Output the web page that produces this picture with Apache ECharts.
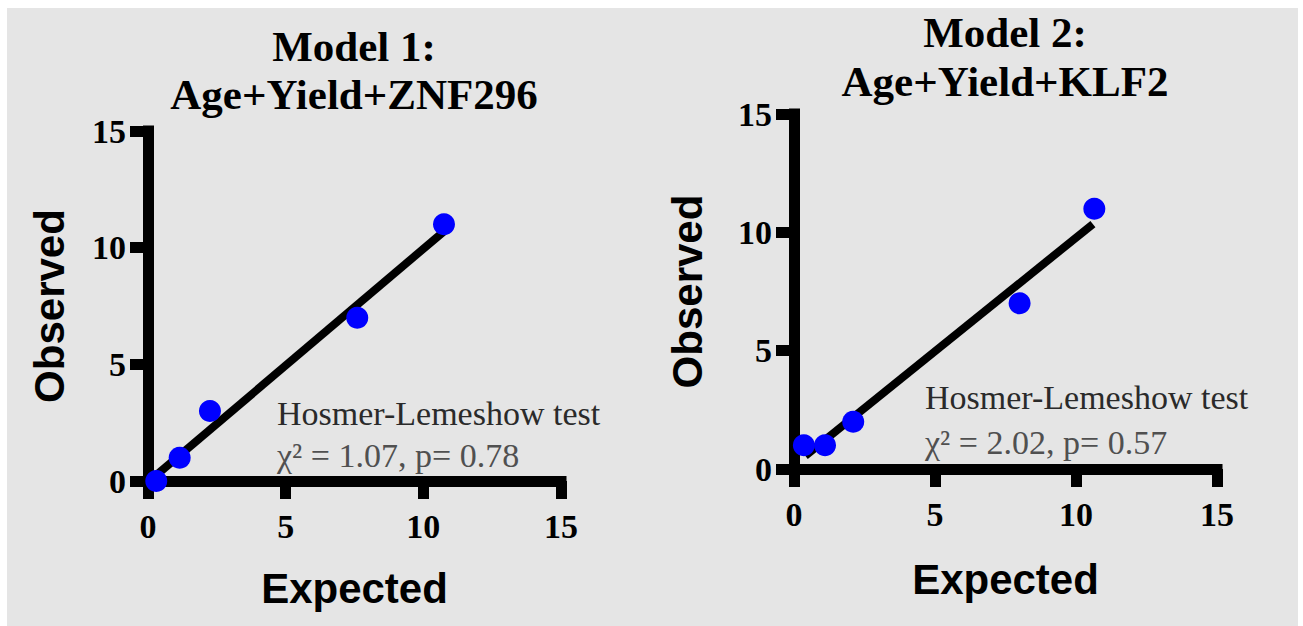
<!DOCTYPE html>
<html>
<head>
<meta charset="utf-8">
<script src="https://cdn.jsdelivr.net/npm/echarts@6/dist/echarts.min.js"></script>
<style>
html, body { margin: 0; padding: 0; background: #ffffff; }
#bg { position: absolute; left: 7px; top: 8px; width: 1291px; height: 618px; background: #e5e5e5; }
#chart { position: absolute; left: 0; top: 0; width: 1303px; height: 626px; }
</style>
</head>
<body>
<div id="bg"></div>
<div id="chart"></div>
<script>
// ---- data ----
const axisMin = 0;
const axisMax = 15;
const axisInterval = 5;

const model1Title = 'Model 1:\nAge+Yield+ZNF296';
const model1Expected = [0.3, 1.15, 2.25, 7.6, 10.75];
const model1Observed = [0, 1, 3, 7, 11];
const model1FitExpected = [0.15, 10.75];
const model1FitObserved = [0.1, 10.7];
const model1Test = 'Hosmer-Lemeshow test';
const model1Stat = 'χ² = 1.07, p= 0.78';

const model2Title = 'Model 2:\nAge+Yield+KLF2';
const model2Expected = [0.35, 1.1, 2.1, 8.0, 10.65];
const model2Observed = [1, 1, 2, 7, 11];
const model2FitExpected = [0.4, 10.6];
const model2FitObserved = [0.55, 10.35];
const model2Test = 'Hosmer-Lemeshow test';
const model2Stat = 'χ² = 2.02, p= 0.57';

const xName = 'Expected';
const yName = 'Observed';

// ---- helpers ----
function pairs(xs, ys) { return xs.map((x, i) => [x, ys[i]]); }

const serif = 'Liberation Serif, Times New Roman, serif';
const sans = 'Liberation Sans, Arial, sans-serif';

function xAxisOf(idx, gap) {
  return {
    type: 'value', gridIndex: idx, min: axisMin, max: axisMax, interval: axisInterval,
    name: xName, nameLocation: 'middle', nameGap: gap,
    nameTextStyle: { fontFamily: sans, fontWeight: 'bold', fontSize: 42, color: '#000' },
    axisLine: { show: true, onZero: false, lineStyle: { color: '#000', width: 11, cap: 'square' } },
    axisTick: { show: true, length: 18, lineStyle: { color: '#000', width: 11 } },
    axisLabel: { fontFamily: serif, fontWeight: 'bold', fontSize: 34, color: '#000', margin: 28 },
    splitLine: { show: false }
  };
}
function yAxisOf(idx, gap) {
  return {
    type: 'value', gridIndex: idx, min: axisMin, max: axisMax, interval: axisInterval,
    name: yName, nameLocation: 'middle', nameGap: gap,
    nameTextStyle: { fontFamily: sans, fontWeight: 'bold', fontSize: 42, color: '#000' },
    axisLine: { show: true, onZero: false, lineStyle: { color: '#000', width: 11, cap: 'square' } },
    axisTick: { show: true, length: 18, lineStyle: { color: '#000', width: 11 } },
    axisLabel: { fontFamily: serif, fontWeight: 'bold', fontSize: 34, color: '#000', margin: 22 },
    splitLine: { show: false }
  };
}
function fitSeries(idx, xs, ys) {
  return {
    type: 'line', xAxisIndex: idx, yAxisIndex: idx, data: pairs(xs, ys),
    symbol: 'none', lineStyle: { color: '#000', width: 8 }, z: 2, silent: true
  };
}
function dotSeries(idx, xs, ys) {
  return {
    type: 'scatter', xAxisIndex: idx, yAxisIndex: idx, data: pairs(xs, ys),
    symbol: 'circle', symbolSize: 22, itemStyle: { color: '#0000ff', opacity: 1 }, z: 3
  };
}

const chart = echarts.init(document.getElementById('chart'), null, { renderer: 'svg' });
chart.setOption({
  animation: false,
  backgroundColor: 'transparent',
  title: [
    { text: model1Title, left: 354, top: 22, textAlign: 'center', padding: 0,
      textStyle: { fontFamily: serif, fontWeight: 'bold', fontSize: 43, lineHeight: 48, color: '#000' } },
    { text: model2Title, left: 1005, top: 8, textAlign: 'center', padding: 0,
      textStyle: { fontFamily: serif, fontWeight: 'bold', fontSize: 43, lineHeight: 49, color: '#000' } }
  ],
  grid: [
    { left: 148, top: 131, width: 413, height: 350, outerBoundsMode: 'none' },
    { left: 794, top: 114, width: 423, height: 355, outerBoundsMode: 'none' }
  ],
  xAxis: [xAxisOf(0, 86), xAxisOf(1, 89)],
  yAxis: [yAxisOf(0, 78), yAxisOf(1, 86)],
  graphic: [
    { type: 'text', x: 277, y: 413, style: { text: model1Test, fontFamily: serif, fontSize: 34, fill: '#2a2a2a', verticalAlign: 'middle' } },
    { type: 'text', x: 277, y: 455, style: { text: model1Stat, fontFamily: serif, fontSize: 34, fill: '#505050', verticalAlign: 'middle' } },
    { type: 'text', x: 925, y: 397, style: { text: model2Test, fontFamily: serif, fontSize: 34, fill: '#2a2a2a', verticalAlign: 'middle' } },
    { type: 'text', x: 925, y: 442, style: { text: model2Stat, fontFamily: serif, fontSize: 34, fill: '#505050', verticalAlign: 'middle' } }
  ],
  series: [
    fitSeries(0, model1FitExpected, model1FitObserved),
    dotSeries(0, model1Expected, model1Observed),
    fitSeries(1, model2FitExpected, model2FitObserved),
    dotSeries(1, model2Expected, model2Observed)
  ]
});
</script>
</body>
</html>
